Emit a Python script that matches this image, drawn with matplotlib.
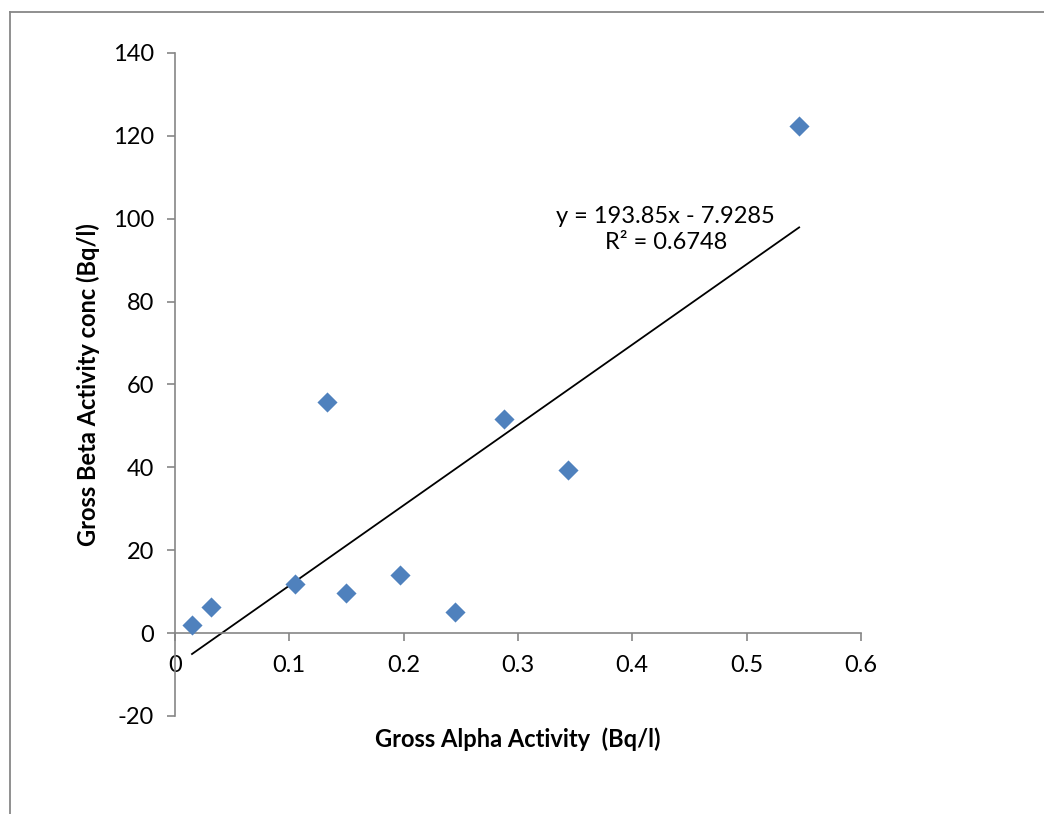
import matplotlib
matplotlib.use("Agg")
import matplotlib.pyplot as plt
from matplotlib.lines import Line2D

# measured values (Bq/l)
alpha = [0.0149, 0.0315, 0.105, 0.133, 0.150, 0.197, 0.245, 0.288, 0.344, 0.546]
beta = [1.9, 6.3, 11.8, 55.7, 9.65, 14.0, 5.1, 51.6, 39.3, 122.3]

# trendline as given by the chart label
slope = 193.85
intercept = -7.9285
r2 = 0.6748

plt.rcParams['font.family'] = ['Lato', 'DejaVu Sans']
plt.rcParams['axes.unicode_minus'] = False

fig = plt.figure(figsize=(10.44, 8.14), dpi=100)
ax = fig.add_axes([0.1676, 0.1204, 0.657, 0.8145])

ax.scatter(alpha, beta, marker='D', s=105, color='#4F81BD', zorder=3, linewidths=0)

# linear trendline over the data range
x_line = [min(alpha), max(alpha)]
y_line = [slope * v + intercept for v in x_line]
ax.plot(x_line, y_line, color='black', lw=1.3, zorder=2)

ax.text(0.4293, 97.5, f"y = {slope}x - {-intercept}\nR² = {r2}", ha='center', va='center',
        fontsize=17, linespacing=1.3)

ax.set_xlim(0, 0.6)
ax.set_ylim(-20, 140)
ax.set_xticks([0, 0.1, 0.2, 0.3, 0.4, 0.5, 0.6])
ax.set_xticklabels(['0', '0.1', '0.2', '0.3', '0.4', '0.5', '0.6'])
ax.set_yticks(range(-20, 141, 20))

ax.spines['top'].set_visible(False)
ax.spines['right'].set_visible(False)
ax.spines['bottom'].set_position(('data', 0))
ax.spines['left'].set_position(('data', 0))
for s in ['bottom', 'left']:
    ax.spines[s].set_color('#868686')
    ax.spines[s].set_linewidth(1.2)
ax.tick_params(axis='both', direction='out', length=6, width=1.2, color='#868686',
               labelsize=17, labelcolor='black')
ax.tick_params(axis='x', pad=10)
ax.tick_params(axis='y', pad=9)

fig.text(518 / 1044, 1 - 739 / 814, "Gross Alpha Activity  (Bq/l)", ha='center', va='center',
         fontsize=17, fontweight='bold')
fig.text(88 / 1044, 1 - 385 / 814, "Gross Beta Activity conc (Bq/l)", ha='center', va='center',
         fontsize=17, fontweight='bold', rotation=90)

# chart area border (top and left edges visible)
fig.add_artist(Line2D([10 / 1044, 1], [1 - 12 / 814, 1 - 12 / 814], color='#878787', lw=1.3,
                      transform=fig.transFigure))
fig.add_artist(Line2D([10 / 1044, 10 / 1044], [0, 1 - 12 / 814], color='#878787', lw=1.3,
                      transform=fig.transFigure))

fig.savefig("out.png", dpi=100, facecolor='white')
